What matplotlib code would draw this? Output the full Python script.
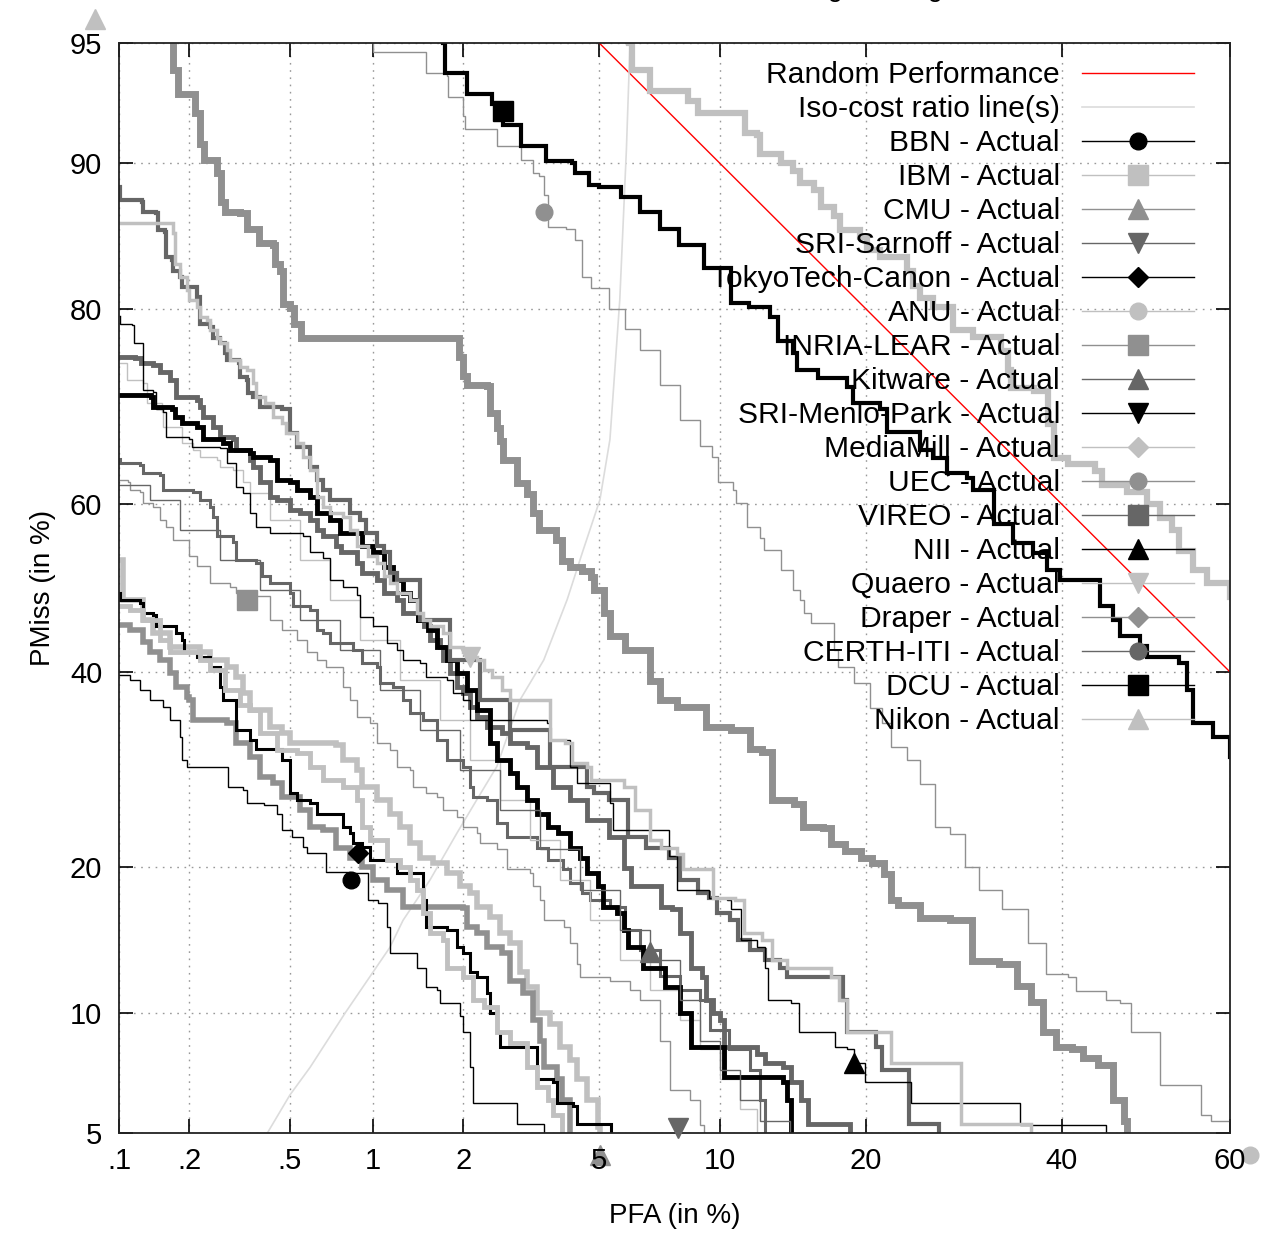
import math
import numpy as np
import matplotlib
matplotlib.use("Agg")
import matplotlib.pyplot as plt
from matplotlib.lines import Line2D

plt.rcParams['font.family'] = ['Liberation Sans', 'DejaVu Sans']

# ---------------------------------------------------------------
# data : (PFA %, PMiss %) corners
# ---------------------------------------------------------------
random_pfa = [5.0, 60.0]
random_pmiss = [95.0, 40.0]

iso_pfa = [0.41, 0.50, 0.595, 0.80, 1.0, 1.145, 1.27, 1.56, 1.91, 2.2, 2.54, 2.985,
           3.5, 4.08, 4.5, 5.02, 5.34, 5.67, 5.9, 6.03]
iso_pmiss = [5.0, 6.3, 7.4, 10.0, 12.3, 13.9, 15.8, 18.9, 23.0, 26.1, 29.5, 36.8,
             41.4, 48.6, 54.3, 60.5, 67.3, 80.8, 90.7, 95.0]

bbn = [(0.1, 39.7), (0.112, 39.1), (0.123, 37.9), (0.136, 36.8), (0.155, 36.0), (0.166, 34.5),
       (0.182, 32.6), (0.187, 30.2), (0.195, 29.5), (0.285, 29.5), (0.288, 27.4), (0.33, 27.1),
       (0.34, 25.8), (0.397, 25.6), (0.445, 24.8), (0.465, 23.3), (0.51, 22.6), (0.56, 21.7),
       (0.58, 21.2), (0.68, 20.8), (0.68, 19.6), (0.83, 19.5), (0.96, 17.3), (1.04, 17.1),
       (1.12, 15.3), (1.145, 13.5), (1.37, 13.5), (1.41, 12.6), (1.48, 12.6), (1.52, 11.4),
       (1.65, 11.25), (1.68, 10.5), (1.85, 10.5), (1.95, 9.8), (1.99, 9.0), (2.1, 7.4),
       (2.15, 6.0), (2.93, 6.0), (2.93, 5.3), (3.5, 5.25), (3.5, 5.0)]

ibm = [(0.1, 53.4), (0.104, 52.6), (0.104, 48.6), (0.127, 46.2), (0.14, 44.6), (0.166, 42.9),
       (0.221, 42.3), (0.243, 41.4), (0.285, 40.6), (0.31, 39.4), (0.33, 37.6), (0.351, 35.6),
       (0.42, 33.7), (0.465, 33.1), (0.50, 32.0), (0.74, 31.8), (0.785, 30.2), (0.88, 29.15),
       (0.92, 27.4), (1.03, 26.1), (1.145, 24.8), (1.24, 23.5), (1.34, 22.1), (1.45, 20.8),
       (1.6, 20.3), (1.77, 19.5), (1.95, 18.4), (2.1, 17.9), (2.2, 16.8), (2.42, 16.05),
       (2.59, 14.9), (2.78, 14.2), (2.985, 12.3), (3.12, 11.4), (3.35, 10.0), (3.65, 9.4),
       (3.9, 8.3), (4.15, 7.7), (4.35, 6.9), (4.63, 6.1), (4.96, 5.2), (5.02, 5.0)]

cmu = [(0.1, 45.6), (0.112, 45.0), (0.127, 43.5), (0.136, 42.3), (0.15, 41.4), (0.166, 39.9),
       (0.176, 38.3), (0.195, 37.1), (0.20, 36.8), (0.206, 34.5), (0.285, 34.2), (0.31, 32.0),
       (0.351, 30.5), (0.384, 28.4), (0.43, 27.8), (0.465, 26.4), (0.545, 25.1), (0.595, 23.5),
       (0.664, 23.3), (0.74, 21.6), (0.83, 20.8), (0.92, 20.0), (1.0, 18.9), (1.12, 18.1),
       (1.27, 16.8), (1.99, 16.7), (2.05, 15.3), (2.2, 14.9), (2.37, 13.9), (2.64, 13.5),
       (2.78, 11.8), (3.04, 11.1), (3.25, 9.6), (3.41, 8.6), (3.5, 7.4), (3.82, 6.9),
       (3.95, 6.1), (4.15, 5.0)]

sri_sarnoff = [(0.1, 65.2), (0.101, 64.7), (0.123, 64.5), (0.127, 63.6), (0.15, 63.4), (0.155, 61.6),
               (0.206, 61.4), (0.221, 60.5), (0.243, 59.6), (0.25, 58.5), (0.26, 56.2), (0.30, 55.5),
               (0.31, 53.4), (0.37, 53.0), (0.39, 51.4), (0.42, 50.6), (0.50, 49.4), (0.515, 47.8),
               (0.595, 47.4), (0.63, 45.0), (0.664, 44.6), (0.704, 43.4), (0.85, 42.6), (0.92, 41.1),
               (1.03, 40.6), (1.06, 38.7), (1.17, 38.3), (1.27, 36.8), (1.34, 35.3), (1.48, 34.5),
               (1.65, 32.3), (1.77, 30.2), (1.99, 29.5), (2.1, 27.4), (2.15, 26.4), (2.37, 26.1),
               (2.54, 23.9), (2.72, 22.6), (3.35, 21.6), (3.6, 20.6), (3.98, 19.8), (4.15, 18.7),
               (4.5, 17.9), (4.72, 17.3), (5.34, 16.8), (5.85, 15.1), (6.4, 13.7), (7.19, 12.1),
               (8.05, 11.25), (8.98, 10.7), (9.48, 9.1), (10.5, 8.2), (11.7, 7.3), (12.3, 6.1),
               (12.6, 5.0)]

tokyotech = [(0.1, 49.4), (0.101, 48.6), (0.123, 48.2), (0.127, 47.0), (0.14, 46.8), (0.145, 45.4),
             (0.176, 44.6), (0.187, 43.8), (0.19, 42.3), (0.214, 41.8), (0.243, 40.6), (0.267, 38.3),
             (0.275, 36.8), (0.31, 33.4), (0.351, 32.3), (0.37, 31.3), (0.465, 30.2), (0.50, 26.8),
             (0.53, 26.1), (0.595, 25.8), (0.63, 24.8), (0.765, 24.8), (0.785, 23.5), (0.83, 23.0),
             (0.85, 22.1), (0.92, 21.7), (0.977, 20.6), (1.17, 20.6), (1.21, 19.5), (1.34, 19.5),
             (1.48, 17.3), (1.52, 15.3), (1.77, 15.1), (1.91, 13.9), (1.99, 13.5), (2.1, 12.3),
             (2.2, 12.0), (2.37, 11.1), (2.42, 10.0), (2.54, 9.0), (2.59, 8.3), (3.25, 8.3),
             (3.35, 6.9), (3.72, 6.8), (3.82, 6.0), (4.23, 5.9), (4.35, 5.3), (5.37, 5.25),
             (5.37, 5.0)]

anu = [(0.101, 75.1), (0.106, 75.1), (0.108, 73.5), (0.127, 73.2), (0.132, 71.2), (0.153, 70.2),
       (0.155, 68.6), (0.186, 68.0), (0.187, 66.9), (0.206, 66.2), (0.221, 65.4), (0.26, 65.0),
       (0.267, 64.3), (0.30, 63.9), (0.33, 62.5), (0.351, 61.3), (0.42, 58.1), (0.545, 53.4),
       (0.704, 48.6), (0.90, 43.8), (1.24, 39.1), (1.68, 34.5), (2.1, 30.2), (2.59, 26.1),
       (3.19, 22.35), (3.9, 18.9), (4.72, 15.8), (5.67, 13.1), (6.79, 11.25), (8.05, 9.6),
       (8.98, 8.2), (10.0, 6.9), (11.1, 5.8), (12.1, 5.0)]

inria = [(0.101, 62.8), (0.11, 62.6), (0.112, 61.6), (0.123, 61.4), (0.127, 60.1), (0.14, 59.6),
         (0.15, 58.1), (0.16, 57.3), (0.171, 55.8), (0.20, 53.8), (0.214, 52.6), (0.243, 50.6),
         (0.293, 50.1), (0.31, 49.4), (0.37, 49.0), (0.42, 46.2), (0.465, 45.0), (0.53, 43.8),
         (0.58, 42.3), (0.63, 41.4), (0.68, 40.6), (0.785, 38.3), (0.83, 36.8), (0.88, 34.9),
         (0.977, 34.2), (1.03, 32.0), (1.145, 31.25), (1.21, 29.5), (1.34, 29.15), (1.37, 27.4),
         (1.52, 26.8), (1.65, 26.4), (1.72, 25.1), (1.91, 24.5), (1.99, 23.5), (2.2, 23.0),
         (2.25, 22.1), (2.54, 21.5), (2.72, 19.8), (3.19, 19.5), (3.25, 18.4), (3.41, 17.3),
         (3.5, 15.8), (4.0, 15.3), (4.15, 14.2), (4.35, 12.8), (4.43, 12.0), (5.34, 11.8),
         (6.03, 11.25), (6.4, 10.7), (7.19, 8.6), (7.61, 6.5), (8.5, 6.1), (8.98, 5.25),
         (9.2, 5.0)]

kitware = [(0.1, 75.7), (0.118, 75.6), (0.125, 75.1), (0.14, 75.0), (0.15, 74.3), (0.166, 73.5),
           (0.176, 71.8), (0.214, 71.5), (0.221, 70.8), (0.228, 69.7), (0.25, 68.6), (0.267, 67.6),
           (0.30, 67.3), (0.31, 66.2), (0.351, 65.0), (0.36, 64.3), (0.384, 62.5), (0.42, 60.8),
           (0.445, 60.5), (0.50, 59.3), (0.545, 58.9), (0.595, 58.1), (0.63, 57.0), (0.664, 56.2),
           (0.74, 55.0), (0.77, 54.3), (0.88, 53.0), (0.92, 51.8), (1.03, 51.0), (1.09, 49.4),
           (1.21, 48.6), (1.27, 47.0), (1.43, 46.2), (1.49, 45.4), (1.56, 43.8), (1.68, 42.9),
           (1.72, 41.4), (1.81, 39.9), (1.91, 38.3), (1.99, 37.6), (2.1, 36.0), (2.2, 34.9),
           (2.37, 33.7), (2.64, 33.1), (2.78, 32.0), (3.12, 31.6), (3.35, 29.5), (3.72, 27.4),
           (4.15, 26.1), (4.63, 24.2), (5.3, 22.6), (5.8, 19.9), (6.06, 18.4), (7.23, 16.8),
           (7.7, 16.6), (8.05, 14.9), (8.55, 12.6), (9.08, 12.0), (9.28, 10.7), (9.63, 10.0),
           (10.0, 9.6), (10.2, 8.3), (12.1, 8.0), (12.6, 7.6), (13.75, 7.4), (14.3, 6.8),
           (15.0, 6.1), (15.5, 5.3), (18.4, 5.3), (18.7, 5.0)]

sri_menlo = [(0.1, 72.0), (0.138, 71.8), (0.14, 70.8), (0.169, 70.5), (0.174, 69.7), (0.187, 69.1),
             (0.214, 68.6), (0.228, 67.3), (0.275, 66.9), (0.293, 66.2), (0.351, 65.8), (0.36, 65.4),
             (0.42, 65.0), (0.445, 62.8), (0.50, 62.5), (0.53, 61.6), (0.595, 60.8), (0.63, 59.0),
             (0.704, 58.1), (0.765, 56.6), (0.84, 56.6), (0.92, 55.0), (1.0, 54.3), (1.09, 52.5),
             (1.17, 51.0), (1.27, 49.4), (1.34, 48.6), (1.43, 46.2), (1.54, 45.0), (1.65, 42.9),
             (1.77, 41.4), (1.91, 39.9), (2.05, 37.9), (2.2, 35.6), (2.42, 32.0), (2.54, 30.2),
             (2.78, 28.8), (2.92, 27.4), (3.12, 26.1), (3.35, 24.8), (3.6, 23.5), (3.85, 23.0),
             (4.15, 21.6), (4.43, 20.8), (4.63, 19.5), (4.96, 18.4), (5.12, 16.8), (5.58, 16.3),
             (5.8, 15.1), (5.95, 13.9), (6.5, 12.6), (7.4, 11.4), (8.05, 10.0), (8.55, 8.3),
             (10.0, 8.3), (10.2, 7.0), (13.75, 6.8), (14.0, 6.1), (14.3, 5.0)]

mediamill = [(0.1, 47.8), (0.112, 47.4), (0.127, 46.2), (0.15, 43.8), (0.166, 42.3), (0.221, 41.4),
             (0.243, 40.2), (0.28, 37.9), (0.32, 36.2), (0.351, 35.6), (0.384, 33.1), (0.445, 31.25),
             (0.53, 30.9), (0.595, 29.5), (0.664, 28.1), (0.785, 27.4), (0.88, 26.1), (0.92, 23.5),
             (0.977, 22.35), (1.12, 20.6), (1.24, 20.0), (1.34, 18.9), (1.41, 18.1), (1.48, 16.3),
             (1.56, 14.9), (1.72, 14.4), (1.77, 12.6), (1.99, 12.0), (2.15, 10.7), (2.32, 10.3),
             (2.54, 9.0), (2.78, 8.5), (3.12, 7.4), (3.35, 6.6), (3.6, 6.1), (3.72, 5.6),
             (3.95, 5.0)]

uec = [(1.0, 95.0), (1.0, 94.7), (1.5, 94.7), (1.52, 94.0), (1.77, 93.9), (1.78, 93.1),
       (2.0, 92.3), (2.02, 91.7), (2.5, 91.7), (2.55, 90.9), (3.0, 90.9), (3.0, 90.2),
       (3.25, 89.5), (3.4, 89.3), (3.5, 88.2), (3.6, 86.2), (4.05, 86.1), (4.3, 85.3),
       (4.5, 82.6), (4.75, 81.7), (5.0, 81.7), (5.3, 80.0), (5.85, 78.3), (6.4, 76.4),
       (7.2, 73.0), (8.05, 69.4), (9.0, 66.6), (9.6, 65.4), (9.9, 62.6), (10.7, 61.6),
       (10.9, 60.1), (11.5, 57.3), (12.3, 56.0), (12.5, 54.6), (13.6, 52.2), (14.4, 49.8),
       (14.9, 48.6), (15.2, 47.0), (15.7, 45.8), (17.4, 42.6), (17.7, 40.6), (19.0, 38.7),
       (20.3, 35.9), (21.4, 34.2), (22.2, 31.6), (23.6, 30.2), (24.8, 27.7), (26.3, 23.5),
       (27.8, 22.9), (29.3, 20.0), (30.8, 18.1), (33.3, 16.6), (35.7, 16.6), (36.2, 14.2),
       (38.2, 12.2), (40.8, 12.0), (41.7, 11.2), (45.2, 10.7), (46.9, 10.5), (48.2, 9.0),
       (51.7, 6.7), (56.6, 5.6), (57.8, 5.4), (60.0, 5.4)]

vireo = [(0.1, 88.7), (0.101, 87.9), (0.126, 87.8), (0.127, 87.2), (0.145, 87.1), (0.147, 86.0),
         (0.158, 85.9), (0.16, 84.1), (0.169, 83.9), (0.171, 83.1), (0.182, 82.6), (0.186, 81.8),
         (0.214, 81.0), (0.221, 78.7), (0.243, 78.5), (0.25, 77.5), (0.267, 77.0), (0.28, 76.1),
         (0.285, 75.4), (0.317, 75.1), (0.32, 73.8), (0.34, 73.5), (0.344, 72.2), (0.36, 71.8),
         (0.384, 70.8), (0.465, 70.5), (0.50, 68.0), (0.53, 66.5), (0.595, 64.3), (0.63, 62.8),
         (0.664, 61.6), (0.704, 60.5), (0.83, 59.0), (0.90, 58.1), (0.95, 56.6), (1.03, 55.0),
         (1.09, 54.3), (1.145, 51.8), (1.21, 51.0), (1.45, 46.2), (1.81, 41.4), (2.25, 36.8),
         (2.78, 33.4), (3.65, 29.5), (3.92, 29.5), (4.63, 27.4), (4.85, 26.8), (5.3, 26.1),
         (5.95, 22.6), (6.63, 21.6), (7.57, 20.8), (8.05, 18.9), (8.88, 17.9), (9.43, 17.5),
         (9.85, 16.3), (10.55, 15.8), (11.0, 14.4), (11.7, 13.7), (12.6, 13.1), (13.55, 12.6),
         (14.0, 12.0), (17.2, 12.0), (18.1, 10.7), (18.4, 9.0), (20.8, 8.3), (21.4, 7.3),
         (23.6, 7.3), (23.8, 5.3), (26.7, 5.25), (26.7, 5.0)]

nii = [(0.101, 79.4), (0.101, 78.7), (0.114, 78.6), (0.116, 77.0), (0.127, 74.8), (0.127, 72.5),
       (0.14, 72.3), (0.145, 70.5), (0.155, 70.2), (0.16, 67.6), (0.20, 67.3), (0.204, 66.5),
       (0.267, 66.4), (0.285, 64.7), (0.31, 62.0), (0.33, 61.3), (0.351, 59.0), (0.37, 57.3),
       (0.42, 56.6), (0.56, 56.2), (0.595, 54.3), (0.664, 53.6), (0.704, 51.0), (0.785, 50.1),
       (0.88, 49.2), (0.90, 46.5), (1.0, 45.4), (1.12, 43.4), (1.21, 42.6), (1.27, 41.4),
       (1.45, 41.1), (1.52, 39.4), (1.77, 39.1), (1.85, 37.6), (1.99, 36.8), (2.1, 34.5),
       (3.58, 34.2), (3.65, 32.3), (4.15, 29.5), (4.35, 27.8), (5.34, 25.8), (5.44, 23.3),
       (6.07, 23.3), (7.57, 20.9), (7.9, 18.1), (9.43, 17.5), (10.4, 17.3), (10.6, 16.6),
       (11.0, 16.6), (11.15, 14.4), (12.1, 13.9), (12.6, 12.6), (12.8, 10.7), (14.3, 10.5),
       (14.8, 9.0), (17.2, 9.0), (17.5, 8.3), (18.4, 8.2), (19.0, 7.6), (19.9, 6.8),
       (23.8, 6.8), (24.0, 6.0), (35.2, 6.0), (35.2, 5.25), (45.2, 5.25), (45.2, 5.0)]

quaero = [(0.1, 86.5), (0.169, 86.5), (0.171, 85.8), (0.174, 83.6), (0.182, 82.6), (0.195, 81.6),
          (0.20, 80.8), (0.214, 80.2), (0.221, 79.3), (0.237, 79.1), (0.243, 78.2), (0.26, 77.5),
          (0.267, 77.0), (0.285, 76.4), (0.293, 75.4), (0.32, 74.8), (0.34, 74.5), (0.36, 73.2),
          (0.37, 71.8), (0.40, 71.2), (0.43, 69.7), (0.465, 69.1), (0.485, 68.0), (0.53, 66.9),
          (0.56, 65.4), (0.595, 63.9), (0.63, 60.8), (0.664, 59.6), (0.704, 59.0), (0.785, 58.5),
          (0.83, 57.0), (0.88, 55.0), (0.96, 53.8), (1.03, 53.0), (1.09, 51.4), (1.145, 50.6),
          (1.21, 49.4), (1.34, 48.6), (1.41, 47.0), (1.48, 46.2), (1.56, 45.4), (1.72, 44.6),
          (1.81, 42.9), (1.99, 42.3), (2.1, 41.8), (2.2, 41.4), (2.32, 40.2), (2.45, 39.4),
          (2.64, 37.9), (2.78, 36.8), (3.65, 32.3), (4.03, 32.0), (4.2, 29.9), (4.63, 29.5),
          (4.75, 28.1), (5.8, 27.4), (6.2, 25.1), (6.79, 22.35), (7.23, 21.6), (7.9, 21.1),
          (8.2, 19.8), (9.63, 17.5), (10.8, 17.3), (11.3, 14.9), (12.4, 14.4), (13.0, 13.1),
          (14.0, 12.6), (17.2, 12.0), (17.8, 10.7), (18.4, 9.0), (22.2, 8.3), (22.2, 7.6),
          (28.5, 7.6), (28.9, 5.3), (36.5, 5.25), (36.5, 5.0)]

draper = [(0.17, 95.0), (0.17, 94.1), (0.18, 93.9), (0.18, 93.2), (0.21, 93.1), (0.21, 92.4),
          (0.22, 91.0), (0.23, 90.2), (0.26, 89.5), (0.27, 87.8), (0.28, 87.2), (0.32, 87.1),
          (0.34, 86.1), (0.38, 85.1), (0.43, 85.0), (0.44, 83.6), (0.46, 83.1), (0.47, 80.4),
          (0.50, 80.1), (0.52, 78.7), (0.55, 77.5), (1.87, 77.5), (1.93, 75.7), (2.0, 73.9),
          (2.06, 73.0), (2.37, 72.9), (2.42, 70.1), (2.55, 68.5), (2.6, 67.1), (2.65, 65.0),
          (2.92, 62.4), (3.12, 61.2), (3.25, 58.9), (3.4, 56.9), (3.8, 55.7), (3.95, 53.3),
          (4.15, 52.5), (4.5, 52.1), (4.75, 51.3), (4.85, 49.8), (5.15, 47.0), (5.35, 44.2),
          (5.85, 42.6), (6.8, 39.0), (7.2, 36.8), (7.9, 36.0), (9.3, 33.7), (10.6, 33.4),
          (11.7, 31.3), (12.4, 31.0), (13.0, 26.1), (14.5, 25.7), (15.1, 23.5), (16.6, 23.4),
          (17.2, 22.0), (18.3, 21.4), (19.6, 20.8), (20.5, 20.3), (21.5, 19.4), (22.2, 17.3),
          (22.8, 16.9), (24.8, 16.0), (27.8, 15.8), (30.0, 13.0), (32.9, 12.8), (34.9, 11.5),
          (36.5, 10.6), (37.8, 9.0), (39.4, 8.3), (41.2, 8.2), (42.5, 7.8), (44.3, 7.5),
          (46.1, 6.1), (47.4, 5.4), (47.8, 5.0)]

certh = [(0.1, 62.2), (0.136, 60.5), (0.182, 57.0), (0.267, 53.4), (0.384, 49.8), (0.545, 46.2),
         (0.765, 42.6), (1.06, 37.9), (1.45, 33.4), (1.95, 29.15), (2.59, 25.1), (3.41, 21.5),
         (4.43, 18.1), (5.67, 15.1), (6.79, 13.1), (8.05, 10.7), (8.98, 8.6), (10.0, 7.3),
         (11.1, 6.1), (12.3, 5.4), (14.2, 5.0)]

dcu = [(1.72, 95.0), (1.75, 94.0), (2.05, 93.9), (2.05, 93.2), (2.45, 93.1), (2.45, 92.8),
       (2.65, 91.9), (3.0, 91.8), (3.0, 90.9), (3.55, 90.8), (3.55, 90.1), (4.2, 90.0),
       (4.3, 89.5), (4.7, 88.8), (5.0, 88.7), (5.7, 88.1), (6.4, 87.2), (7.2, 86.1),
       (8.0, 85.0), (9.2, 83.3), (10.6, 80.5), (11.6, 80.2), (12.9, 79.3), (13.4, 77.2),
       (14.4, 76.1), (14.7, 74.5), (16.2, 73.7), (18.4, 72.8), (18.9, 71.2), (21.2, 70.5),
       (21.8, 68.1), (24.8, 66.2), (26.1, 65.3), (27.5, 63.6), (29.5, 63.0), (30.1, 61.6),
       (32.4, 57.7), (34.5, 55.4), (36.7, 54.2), (38.3, 52.2), (39.8, 51.0), (44.5, 47.8),
       (46.1, 46.2), (46.9, 44.2), (49.3, 43.0), (50.1, 41.8), (54.0, 41.1), (54.9, 37.9),
       (55.6, 34.2), (58.0, 32.6), (60.0, 30.5)]

nikon = [(6.0, 95.0), (6.1, 94.1), (6.8, 93.3), (8.4, 92.9), (8.9, 92.4), (11.2, 92.4),
         (11.4, 91.5), (12.1, 91.4), (12.3, 90.5), (13.6, 90.0), (14.4, 89.6), (14.9, 88.9),
         (15.9, 88.5), (16.4, 87.5), (17.4, 86.9), (17.9, 86.0), (19.5, 85.5), (20.1, 84.6),
         (21.2, 84.1), (23.6, 83.1), (24.2, 81.9), (24.8, 80.9), (26.1, 80.2), (28.1, 78.2),
         (30.1, 77.6), (33.1, 76.3), (33.9, 74.5), (34.2, 72.7), (36.8, 72.4), (38.4, 69.0),
         (39.1, 65.3), (40.8, 64.6), (43.9, 63.8), (44.7, 62.2), (47.7, 61.4), (50.1, 60.0),
         (51.7, 58.4), (53.2, 56.9), (54.0, 54.5), (55.6, 52.2), (57.3, 50.6), (60.0, 48.9)]

# actual decision points (only the ones visible in the picture)
actual = {
    'BBN': (0.84, 18.9), 'TokyoTech-Canon': (0.89, 21.2), 'INRIA-LEAR': (0.34, 48.6),
    'Quaero': (2.1, 41.8), 'Kitware': (6.8, 13.6), 'NII': (19.0, 7.6),
    'SRI-Sarnoff': (7.95, 5.15), 'CMU': (5.02, 4.35), 'ANU': (62.3, 4.35),
    'Nikon': (0.078, 95.7), 'UEC': (3.5, 87.2), 'DCU': (2.65, 92.5),
}

BLACK, LIGHT, MID, DARK = '#000000', '#c0c0c0', '#909090', '#666666'

# name, curve, colour, line width, marker
systems = [
    ('BBN', bbn, BLACK, 1.0, 'o'),
    ('IBM', ibm, LIGHT, 4.0, 's'),
    ('CMU', cmu, MID, 4.0, '^'),
    ('SRI-Sarnoff', sri_sarnoff, DARK, 2.2, 'v'),
    ('TokyoTech-Canon', tokyotech, BLACK, 2.2, 'D'),
    ('ANU', anu, LIGHT, 1.0, 'o'),
    ('INRIA-LEAR', inria, MID, 1.0, 's'),
    ('Kitware', kitware, DARK, 3.5, '^'),
    ('SRI-Menlo-Park', sri_menlo, BLACK, 3.5, 'v'),
    ('MediaMill', mediamill, LIGHT, 3.5, 'D'),
    ('UEC', uec, MID, 1.0, 'o'),
    ('VIREO', vireo, DARK, 3.0, 's'),
    ('NII', nii, BLACK, 1.0, '^'),
    ('Quaero', quaero, LIGHT, 2.5, 'v'),
    ('Draper', draper, MID, 5.0, 'D'),
    ('CERTH-ITI', certh, DARK, 1.0, 'o'),
    ('DCU', dcu, BLACK, 3.0, 's'),
    ('Nikon', nikon, LIGHT, 4.5, '^'),
]
marker_size = {'o': 12, 's': 14, '^': 14, 'v': 14, 'D': 10}


# ---------------------------------------------------------------
# normal deviate scale
# ---------------------------------------------------------------
A = [-3.969683028665376e+01, 2.209460984245205e+02, -2.759285104469687e+02,
     1.383577518672690e+02, -3.066479806614716e+01, 2.506628277459239e+00]
B = [-5.447609879822406e+01, 1.615858368580409e+02, -1.556989798598866e+02,
     6.680131188771972e+01, -1.328068155288572e+01]
C = [-7.784894002430293e-03, -3.223964580411365e-01, -2.400758277161838e+00,
     -2.549732539343734e+00, 4.374664141464968e+00, 2.938163982698783e+00]
D = [7.784695709041462e-03, 3.224671290700398e-01, 2.445134137142996e+00,
     3.754408661907416e+00]


def ppf(p):
    p = np.clip(np.asarray(p, dtype=float), 1e-9, 1 - 1e-9)
    plow = 0.02425
    ql = np.sqrt(-2 * np.log(p))
    qh = np.sqrt(-2 * np.log(1 - p))
    lo = (((((C[0]*ql+C[1])*ql+C[2])*ql+C[3])*ql+C[4])*ql+C[5]) / \
        ((((D[0]*ql+D[1])*ql+D[2])*ql+D[3])*ql+1)
    hi = -(((((C[0]*qh+C[1])*qh+C[2])*qh+C[3])*qh+C[4])*qh+C[5]) / \
        ((((D[0]*qh+D[1])*qh+D[2])*qh+D[3])*qh+1)
    q = p - 0.5
    r = q * q
    mid = (((((A[0]*r+A[1])*r+A[2])*r+A[3])*r+A[4])*r+A[5])*q / \
        (((((B[0]*r+B[1])*r+B[2])*r+B[3])*r+B[4])*r+1)
    return np.where(p < plow, lo, np.where(p > 1 - plow, hi, mid))


_erf = np.vectorize(math.erf)


def cdf(z):
    z = np.asarray(z, dtype=float)
    return 0.5 * (1 + _erf(z / math.sqrt(2)))


def fwd(v):
    return ppf(np.asarray(v, dtype=float) / 100.0)


def inv(z):
    return 100.0 * cdf(z)


# ---------------------------------------------------------------
W, H = 1267, 1239
fig = plt.figure(figsize=(W / 100, H / 100), dpi=100)
ax = fig.add_axes([119 / W, 1 - 1133 / H, 1111 / W, 1090 / H])
ax.set_xscale('function', functions=(fwd, inv))
ax.set_yscale('function', functions=(fwd, inv))

ax.plot(random_pfa, random_pmiss, color='red', lw=1.0, zorder=2)
ax.plot(iso_pfa, iso_pmiss, color='#dcdcdc', lw=1.2, zorder=2)

for name, pts, col, lw, mk in systems:
    pfa = [p[0] for p in pts]
    pmiss = [p[1] for p in pts]
    ax.plot(pfa, pmiss, color=col, lw=lw, drawstyle='steps-post', zorder=3,
            solid_joinstyle='miter')
    if name in actual:
        px, py = actual[name]
        inside = 0.1 <= px <= 60 and 5 <= py <= 95
        # points outside the frame sit under the tick labels, like the original
        ax.plot([px], [py], linestyle='none', marker=mk, ms=marker_size[mk],
                color=col, mec=col, clip_on=False, zorder=5 if inside else 1.4)

ax.set_xlim(0.1, 60)
ax.set_ylim(5, 95)
xt = [0.1, 0.2, 0.5, 1, 2, 5, 10, 20, 40, 60]
ax.set_xticks(xt)
ax.set_xticklabels(['.1', '.2', '.5', '1', '2', '5', '10', '20', '40', '60'])
yt = [5, 10, 20, 40, 60, 80, 90, 95]
ax.set_yticks(yt)
ax.set_yticklabels([str(v) for v in yt])
ax.minorticks_off()
ax.tick_params(direction='in', length=10, width=1.2, top=True, right=True,
               labelsize=21, colors='black')
ax.tick_params(axis='x', pad=10)
ax.tick_params(axis='y', pad=12)
ax.grid(True, color='#999999', linestyle=(0, (1.2, 4)), lw=1.0)
for s in ax.spines.values():
    s.set_linewidth(1.3)
    s.set_color('#222222')
    s.set_zorder(4)

ax.set_xlabel('PFA (in %)', fontsize=20, labelpad=20)
ax.set_ylabel('PMiss (in %)', fontsize=20, labelpad=10)

# legend, gnuplot style: right aligned text, sample on the right
handles = [Line2D([], [], color='red', lw=1.0),
           Line2D([], [], color='#dcdcdc', lw=1.2)]
labels = ['Random Performance', 'Iso-cost ratio line(s)']
for name, pts, col, lw, mk in systems:
    handles.append(Line2D([], [], color=col, lw=1.0, marker=mk,
                          ms=marker_size[mk], mec=col))
    labels.append(name + ' - Actual')
leg = ax.legend(handles, labels, loc='upper right', frameon=False,
                markerfirst=False, fontsize=21.6, handlelength=3.75,
                handletextpad=0.72, labelspacing=0.2, borderpad=0,
                borderaxespad=0, numpoints=1,
                bbox_to_anchor=(1194 / W, 1 - 61 / H),
                bbox_transform=fig.transFigure)
leg.set_zorder(6)

# title sits almost entirely above the top edge, as in the source image
fig.text(0.5, 1 - 2 / H, 'MED-11 Results: Event E008 Flash mob gathering',
         ha='center', va='bottom', fontsize=20)

fig.savefig('out.png', dpi=100)
